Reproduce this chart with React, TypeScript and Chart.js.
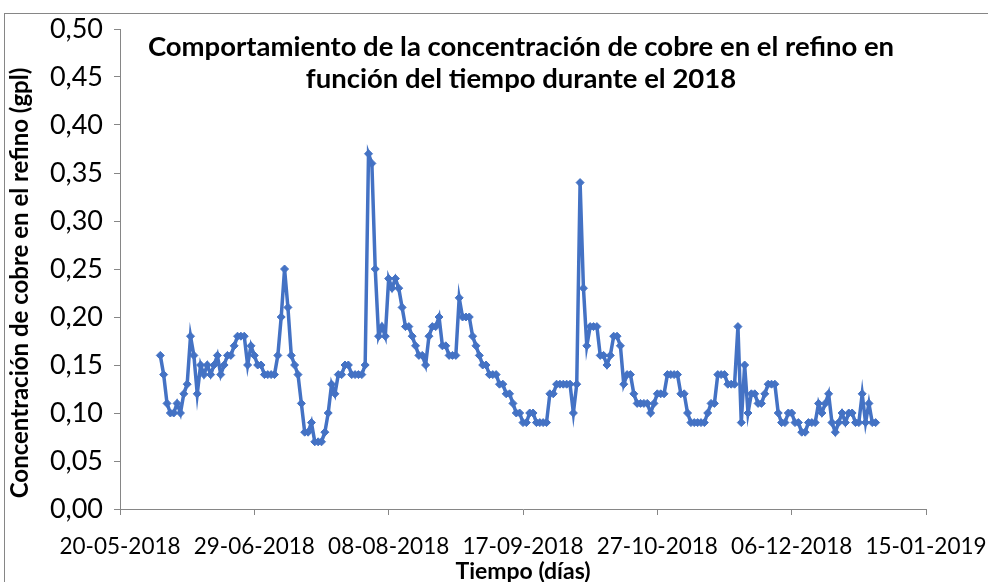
import React, { useEffect, useRef } from "react";
import { Chart, registerables } from "chart.js";

Chart.register(...registerables);

// ---- data ----
const axisStartDate = "2018-05-20";
const seriesStartDate = "2018-06-01"; // one reading per day until 2018-12-31

const concentration = [
  0.16, 0.14, 0.11, 0.10, 0.10, 0.11, 0.10, 0.12, 0.13, 0.18,
  0.16, 0.12, 0.15, 0.14, 0.15, 0.14, 0.15, 0.16, 0.14, 0.15,
  0.16, 0.16, 0.17, 0.18, 0.18, 0.18, 0.15, 0.17, 0.16, 0.15,
  0.15, 0.14, 0.14, 0.14, 0.14, 0.16, 0.20, 0.25, 0.21, 0.16,
  0.15, 0.14, 0.11, 0.08, 0.08, 0.09, 0.07, 0.07, 0.07, 0.08,
  0.10, 0.13, 0.12, 0.14, 0.14, 0.15, 0.15, 0.14, 0.14, 0.14,
  0.14, 0.15, 0.37, 0.36, 0.25, 0.18, 0.19, 0.18, 0.24, 0.23,
  0.24, 0.23, 0.21, 0.19, 0.19, 0.18, 0.17, 0.16, 0.16, 0.15,
  0.18, 0.19, 0.19, 0.20, 0.17, 0.17, 0.16, 0.16, 0.16, 0.22,
  0.20, 0.20, 0.20, 0.18, 0.17, 0.16, 0.15, 0.15, 0.14, 0.14,
  0.14, 0.13, 0.13, 0.12, 0.12, 0.11, 0.10, 0.10, 0.09, 0.09,
  0.10, 0.10, 0.09, 0.09, 0.09, 0.09, 0.12, 0.12, 0.13, 0.13,
  0.13, 0.13, 0.13, 0.10, 0.13, 0.34, 0.23, 0.17, 0.19, 0.19,
  0.19, 0.16, 0.16, 0.15, 0.16, 0.18, 0.18, 0.17, 0.13, 0.14,
  0.14, 0.12, 0.11, 0.11, 0.11, 0.11, 0.10, 0.11, 0.12, 0.12,
  0.12, 0.14, 0.14, 0.14, 0.14, 0.12, 0.12, 0.10, 0.09, 0.09,
  0.09, 0.09, 0.09, 0.10, 0.11, 0.11, 0.14, 0.14, 0.14, 0.13,
  0.13, 0.13, 0.19, 0.09, 0.15, 0.10, 0.12, 0.12, 0.11, 0.11,
  0.12, 0.13, 0.13, 0.13, 0.10, 0.09, 0.09, 0.10, 0.10, 0.09,
  0.09, 0.08, 0.08, 0.09, 0.09, 0.09, 0.11, 0.10, 0.11, 0.12,
  0.09, 0.08, 0.09, 0.10, 0.09, 0.10, 0.10, 0.09, 0.09, 0.12,
  0.09, 0.11, 0.09, 0.09,
];

const xTickLabels = [
  "20-05-2018",
  "29-06-2018",
  "08-08-2018",
  "17-09-2018",
  "27-10-2018",
  "06-12-2018",
  "15-01-2019",
];
const xTickStepDays = 40;

const yMin = 0;
const yMax = 0.5;
const yStep = 0.05;

const titleLines = [
  "Comportamiento de la concentración de cobre en el refino en",
  "función del tiempo durante el 2018",
];
const yAxisTitle = "Concentración de cobre en el refino (gpl)";
const xAxisTitle = "Tiempo (días)";

// ---- helpers ----
function dayNumber(iso: string): number {
  const [y, m, d] = iso.split("-").map(Number);
  return Date.UTC(y, m - 1, d) / 86400000;
}

const FONT = "Lato, 'Open Sans', sans-serif";
const LINE_COLOR = "#4472C4";
const AXIS_COLOR = "#868686";

export default function App() {
  const canvasRef = useRef<HTMLCanvasElement | null>(null);

  useEffect(() => {
    const base = dayNumber(axisStartDate);
    const first = dayNumber(seriesStartDate) - base;
    const points = concentration.map((v, i) => ({ x: first + i, y: v }));
    const xMax = (xTickLabels.length - 1) * xTickStepDays;

    const chart = new Chart(canvasRef.current as HTMLCanvasElement, {
      type: "line",
      data: {
        datasets: [
          {
            data: points,
            borderColor: LINE_COLOR,
            backgroundColor: LINE_COLOR,
            borderWidth: 3.5,
            pointStyle: "rectRot",
            pointRadius: 4,
            pointBorderWidth: 1,
            pointBorderColor: LINE_COLOR,
            pointBackgroundColor: LINE_COLOR,
            tension: 0,
          },
        ],
      },
      options: {
        animation: false,
        responsive: false,
        devicePixelRatio: 1,
        layout: { padding: { top: 29, right: 62, left: 0, bottom: 0 } },
        plugins: {
          legend: { display: false },
          tooltip: { enabled: false },
          title: { display: false },
        },
        scales: {
          x: {
            type: "linear",
            min: 0,
            max: xMax,
            afterFit: (s: any) => {
              s.height = 73;
              s.paddingLeft = 0;
              s.paddingRight = 0;
            },
            ticks: {
              stepSize: xTickStepDays,
              autoSkip: false,
              maxRotation: 0,
              padding: 18,
              color: "#000",
              font: { family: FONT, size: 22.5 },
              callback: (v: any) => xTickLabels[Math.round(Number(v) / xTickStepDays)] ?? "",
            },
            grid: {
              drawOnChartArea: false,
              drawTicks: true,
              tickLength: 6,
              color: AXIS_COLOR,
            },
            border: { color: AXIS_COLOR, width: 1 },
          },
          y: {
            min: yMin,
            max: yMax,
            afterFit: (s: any) => {
              s.width = 120;
              s.paddingTop = 0;
              s.paddingBottom = 0;
            },
            ticks: {
              stepSize: yStep,
              padding: 11,
              color: "#000",
              font: { family: FONT, size: 27 },
              callback: (v: any) => Number(v).toFixed(2).replace(".", ","),
            },
            grid: {
              drawOnChartArea: false,
              drawTicks: true,
              tickLength: 6,
              color: AXIS_COLOR,
            },
            border: { color: AXIS_COLOR, width: 1 },
          },
        },
      },
    });
    return () => chart.destroy();
  }, []);

  return (
    <div
      style={{
        position: "fixed",
        left: 0,
        top: 0,
        width: 988,
        height: 582,
        overflow: "hidden",
        background: "#fff",
      }}
    >
      <div
        style={{
          position: "absolute",
          left: 4,
          top: 13,
          width: 1100,
          height: 700,
          border: `1px solid ${AXIS_COLOR}`,
        }}
      />
      <canvas
        ref={canvasRef}
        width={988}
        height={582}
        style={{ position: "absolute", left: 0, top: 0 }}
      />
      <div
        style={{
          position: "absolute",
          left: 0,
          top: 30,
          width: 1042,
          textAlign: "center",
          fontFamily: FONT,
          fontWeight: 700,
          fontSize: 27.5,
          lineHeight: "32px",
          color: "#000",
          whiteSpace: "nowrap",
        }}
      >
        {titleLines.map((t) => (
          <div key={t}>{t}</div>
        ))}
      </div>
      <div
        style={{
          position: "absolute",
          left: 19 - 300,
          top: 283 - 15,
          width: 600,
          height: 30,
          lineHeight: "30px",
          textAlign: "center",
          transform: "rotate(-90deg)",
          transformOrigin: "50% 50%",
          fontFamily: FONT,
          fontWeight: 700,
          fontSize: 24,
          color: "#000",
          whiteSpace: "nowrap",
        }}
      >
        {yAxisTitle}
      </div>
      <div
        style={{
          position: "absolute",
          left: 0,
          top: 556,
          width: 1046,
          height: 28,
          lineHeight: "28px",
          textAlign: "center",
          fontFamily: FONT,
          fontWeight: 700,
          fontSize: 23,
          color: "#000",
          whiteSpace: "nowrap",
        }}
      >
        {xAxisTitle}
      </div>
    </div>
  );
}
